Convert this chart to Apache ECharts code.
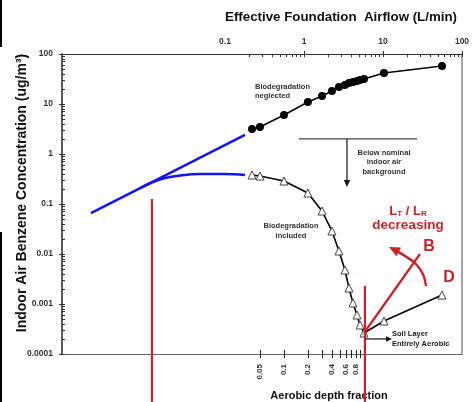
<!DOCTYPE html>
<html>
<head>
<meta charset="utf-8">
<script src="https://cdn.jsdelivr.net/npm/echarts@6/dist/echarts.min.js"></script>
<style>
  html, body { margin: 0; padding: 0; background: #fff; }
  #chart { width: 473px; height: 402px; }
</style>
</head>
<body>
<div id="chart"></div>
<script>
// Effective foundation airflow (L/min) for each model run
const AIRFLOW = [0.22, 0.277, 0.558, 1.12, 1.69, 2.26, 2.77, 3.30, 3.71, 4.17, 4.69, 5.12, 5.75, 10.3, 55.8];
// Indoor air benzene concentration (ug/m3), biodegradation neglected
const CONC_NEGLECTED = [3.16, 3.47, 6.03, 11.0, 14.5, 18.2, 21.9, 24.0, 26.3, 27.5, 28.8, 30.2, 31.6, 41.7, 57.5];
// Indoor air benzene concentration (ug/m3), biodegradation included
const CONC_INCLUDED = [0.380, 0.363, 0.288, 0.166, 0.0724, 0.0288, 0.0115, 0.00479, 0.00209, 0.00105, 0.000603, 0.00038, 0.000263, 0.000457, 0.00151];

// Low-airflow extension (blue): straight trend and the flattening branch
const BLUE_TREND_X = [0.00201, 0.179];
const BLUE_TREND_Y = [0.066, 2.40];
const BLUE_BEND_X = [0.0084, 0.0119, 0.0174, 0.0269, 0.0483, 0.1, 0.179];
const BLUE_BEND_Y = [0.207, 0.269, 0.331, 0.372, 0.398, 0.398, 0.380];

// Red markers: two vertical cut-offs and the "B" trend
const RED_CUT_LEFT_X = [0.0119, 0.0119];
const RED_CUT_LEFT_Y = [0.126, 0.0000110];
const RED_CUT_RIGHT_X = [5.9, 5.9];
const RED_CUT_RIGHT_Y = [0.00229, 0.0000110];
const RED_B_X = [5.75, 29.4];
const RED_B_Y = [0.000263, 0.01];

// Axis tick values
const Y_MAJOR = [0.0001, 0.001, 0.01, 0.1, 1, 10, 100];
const TOP_LABELS = [0.1, 1, 10, 100];
const TOP_MAJOR = [1, 10, 100];
const DEPTH_TICKS = [0.05, 0.1, 0.2, 0.3, 0.4, 0.5, 0.6, 0.7, 0.8, 0.9, 1.0];
const DEPTH_LABEL_VALUES = [0.05, 0.1, 0.2, 0.4, 0.6, 0.8, 1.0];
const DEPTH_LABELS = ['0.05', '0.1', '0.2', '0.4', '0.6', '0.8', '1.0'];

// Annotation arrows, given in (airflow, concentration) coordinates
const ARROWS = [
  { pts: [[0.865, 2.0], [26.9, 2.0]], color: '#444', width: 1.2, head: 0 },
  { pts: [[3.50, 2.0], [3.50, 0.219]], color: '#111', width: 1.2, head: 7 },
  { pts: [[5.92, 0.0002], [13.0, 0.0002]], color: '#111', width: 1.2, head: 6 },
  { pts: [[35.0, 0.00229], [32.0, 0.00398], [25.4, 0.0066], [19.0, 0.00912], [15.0, 0.01148], [11.9, 0.0138]], color: '#d21f26', width: 2.4, head: 11 }
];

function minorTicks(majors) {
  const out = [];
  majors.forEach(m => { for (let k = 1; k <= 9; k++) out.push(m * k); });
  return out;
}
function fmtPow(v) {
  const e = Math.round(Math.log10(v));
  return e >= 0 ? String(Math.round(Math.pow(10, e))) : Math.pow(10, e).toFixed(-e);
}
function fmtDepth(v) {
  let best = 0;
  DEPTH_LABEL_VALUES.forEach((d, i) => {
    if (Math.abs(Math.log(d / v)) < Math.abs(Math.log(DEPTH_LABEL_VALUES[best] / v))) best = i;
  });
  return DEPTH_LABELS[best];
}
const zip = (xs, ys) => xs.map((x, i) => [x, ys[i]]);

const FONT = 'Liberation Sans, Arial, Helvetica, sans-serif';
const RED = '#d21f26';
const BLUE = '#1414ee';
const labelStyle = { fontFamily: FONT, fontSize: 8.5, fontWeight: 'bold', color: '#333' };

const Y_TICKS = minorTicks([0.0001, 0.001, 0.01, 0.1, 1, 10]).concat([100]);
const TOP_TICKS = minorTicks([0.1, 1, 10]).filter(v => v > 0.15).concat([100]);

const X_MIN = 8.65e-4, X_MAX = 100;
const D_MIN = 1.679e-4, D_MAX = 16.79;

const chart = echarts.init(document.getElementById('chart'), null, { renderer: 'canvas' });

const option = {
  animation: false,
  backgroundColor: '#fff',
  grid: { left: 62, right: 11, top: 54, bottom: 48, containLabel: false },
  xAxis: [
    { // airflow scale (top) with labels and inner ticks
      type: 'log', position: 'top', min: X_MIN, max: X_MAX,
      axisLine: { lineStyle: { color: '#333', width: 1.2 } },
      axisTick: { show: true, inside: true, length: 3, customValues: TOP_TICKS, lineStyle: { color: '#333' } },
      axisLabel: { show: true, margin: 8, customValues: TOP_LABELS, formatter: fmtPow, ...labelStyle },
      splitLine: { show: false }, minorTick: { show: false }
    },
    { // outer stubs of the major airflow ticks
      type: 'log', position: 'top', min: X_MIN, max: X_MAX,
      axisLine: { show: false },
      axisTick: { show: true, inside: false, length: 3, customValues: TOP_MAJOR, lineStyle: { color: '#333' } },
      axisLabel: { show: false }, splitLine: { show: false }
    },
    { // aerobic depth fraction (bottom)
      type: 'log', position: 'bottom', min: D_MIN, max: D_MAX,
      axisLine: { lineStyle: { color: '#666', width: 1 } },
      axisTick: { show: true, inside: false, length: 4, customValues: DEPTH_TICKS, lineStyle: { color: '#222' } },
      axisLabel: { show: true, rotate: 90, margin: 10, customValues: DEPTH_LABEL_VALUES, formatter: fmtDepth, ...labelStyle, fontSize: 8 },
      splitLine: { show: false }
    },
    {
      type: 'log', position: 'bottom', min: D_MIN, max: D_MAX,
      axisLine: { show: false },
      axisTick: { show: true, inside: true, length: 4, customValues: DEPTH_TICKS, lineStyle: { color: '#222' } },
      axisLabel: { show: false }, splitLine: { show: false }
    }
  ],
  yAxis: [
    {
      type: 'log', position: 'left', min: 0.0001, max: 100,
      axisLine: { lineStyle: { color: '#222', width: 1.5 } },
      axisTick: { show: true, inside: true, length: 3, customValues: Y_TICKS, lineStyle: { color: '#333' } },
      axisLabel: { show: true, margin: 9, customValues: Y_MAJOR, formatter: fmtPow, ...labelStyle },
      splitLine: { show: false }
    },
    {
      type: 'log', position: 'left', min: 0.0001, max: 100,
      axisLine: { show: false },
      axisTick: { show: true, inside: false, length: 3, customValues: Y_MAJOR, lineStyle: { color: '#333' } },
      axisLabel: { show: false }, splitLine: { show: false }
    },
    { // right frame edge
      type: 'log', position: 'right', min: 0.0001, max: 100,
      axisLine: { show: true, lineStyle: { color: '#888', width: 1.5 } },
      axisTick: { show: false }, axisLabel: { show: false }, splitLine: { show: false }
    }
  ],
  series: [
    {
      name: 'trend', type: 'line', xAxisIndex: 0, yAxisIndex: 0,
      data: zip(BLUE_TREND_X, BLUE_TREND_Y), showSymbol: false, symbol: 'none',
      lineStyle: { color: BLUE, width: 2.5 }, z: 3
    },
    {
      name: 'bend', type: 'line', xAxisIndex: 0, yAxisIndex: 0,
      data: zip(BLUE_BEND_X, BLUE_BEND_Y), showSymbol: false, symbol: 'none', smooth: 0.4,
      lineStyle: { color: BLUE, width: 2.5 }, z: 3
    },
    {
      name: 'Biodegradation neglected', type: 'line', xAxisIndex: 0, yAxisIndex: 0,
      data: zip(AIRFLOW, CONC_NEGLECTED), symbol: 'circle', symbolSize: 8,
      itemStyle: { color: '#000' }, lineStyle: { color: '#000', width: 1.6 }, z: 4
    },
    {
      name: 'Biodegradation included', type: 'line', xAxisIndex: 0, yAxisIndex: 0,
      data: zip(AIRFLOW, CONC_INCLUDED), symbol: 'triangle', symbolSize: 8,
      itemStyle: { color: '#fff', borderColor: '#444', borderWidth: 1 },
      lineStyle: { color: '#000', width: 1.6 }, z: 4
    },
    {
      name: 'cut left', type: 'line', xAxisIndex: 0, yAxisIndex: 0, clip: false,
      data: zip(RED_CUT_LEFT_X, RED_CUT_LEFT_Y), symbol: 'none',
      lineStyle: { color: RED, width: 2.2 }, z: 5
    },
    {
      name: 'cut right', type: 'line', xAxisIndex: 0, yAxisIndex: 0, clip: false,
      data: zip(RED_CUT_RIGHT_X, RED_CUT_RIGHT_Y), symbol: 'none',
      lineStyle: { color: RED, width: 2.2 }, z: 5
    },
    {
      name: 'B', type: 'line', xAxisIndex: 0, yAxisIndex: 0,
      data: zip(RED_B_X, RED_B_Y), symbol: 'none',
      lineStyle: { color: RED, width: 2.2 }, z: 5
    },
    {
      name: 'arrows', type: 'custom', xAxisIndex: 0, yAxisIndex: 0, clip: false, z: 6,
      data: ARROWS.map(() => [1, 1]),
      renderItem: function (params, api) {
        const a = ARROWS[params.dataIndex];
        const p = a.pts.map(q => api.coord(q));
        const children = [];
        let linePts = p.slice();
        if (a.head > 0) {
          const tip = p[p.length - 1];
          const prev = p[p.length - 2];
          const dx = tip[0] - prev[0], dy = tip[1] - prev[1];
          const len = Math.sqrt(dx * dx + dy * dy) || 1;
          const ux = dx / len, uy = dy / len;
          const hw = a.head * 0.45;
          const bx = tip[0] - ux * a.head, by = tip[1] - uy * a.head;
          children.push({
            type: 'polygon',
            shape: { points: [tip, [bx - uy * hw, by + ux * hw], [bx + uy * hw, by - ux * hw]] },
            style: { fill: a.color }
          });
          linePts[linePts.length - 1] = [tip[0] - ux * a.head * 0.7, tip[1] - uy * a.head * 0.7];
        }
        children.unshift({
          type: 'polyline',
          shape: { points: linePts, smooth: linePts.length > 2 ? 0.35 : 0 },
          style: { stroke: a.color, lineWidth: a.width, fill: null }
        });
        return { type: 'group', children: children };
      }
    }
  ],
  graphic: [
    { type: 'rect', shape: { x: 0, y: 0, width: 2, height: 47 }, style: { fill: '#000' } },
    { type: 'rect', shape: { x: 0, y: 232, width: 2, height: 170 }, style: { fill: '#000' } },
    { type: 'text', x: 341, y: 17, style: { text: 'Effective Foundation  Airflow (L/min)', font: 'bold 13.3px ' + FONT, fill: '#111', align: 'center', verticalAlign: 'middle' } },
    { type: 'text', x: 22, y: 193, rotation: Math.PI / 2, style: { text: 'Indoor Air Benzene Concentration (ug/m³)', font: 'bold 14px ' + FONT, fill: '#111', align: 'center', verticalAlign: 'middle' } },
    { type: 'text', x: 329, y: 396, style: { text: 'Aerobic depth fraction', font: 'bold 11px ' + FONT, fill: '#111', align: 'center', verticalAlign: 'middle' } },
    { type: 'text', x: 255, y: 91, style: { text: 'Biodegradation\nneglected', font: 'bold 7.5px ' + FONT, lineHeight: 9, fill: '#333', align: 'left', verticalAlign: 'middle' } },
    { type: 'text', x: 291, y: 231, style: { text: 'Biodegradation\nincluded', font: 'bold 7.5px ' + FONT, lineHeight: 10, fill: '#333', align: 'center', verticalAlign: 'middle' } },
    { type: 'text', x: 384, y: 162, style: { text: 'Below nominal\nindoor air\nbackground', font: 'bold 7.5px ' + FONT, lineHeight: 9.5, fill: '#333', align: 'center', verticalAlign: 'middle' } },
    { type: 'text', x: 392, y: 339, style: { text: 'Soil Layer\nEntirely Aerobic', font: 'bold 7.5px ' + FONT, lineHeight: 9.5, fill: '#222', align: 'left', verticalAlign: 'middle' } },
    { type: 'text', x: 408, y: 211, style: {
        text: '{a|L}{s|T}{a| / L}{s|R}', align: 'center', verticalAlign: 'middle',
        rich: {
          a: { fontFamily: FONT, fontSize: 13, fontWeight: 'bold', fill: RED, color: RED },
          s: { fontFamily: FONT, fontSize: 8, fontWeight: 'bold', fill: RED, color: RED, padding: [6, 0, 0, 0] }
        } } },
    { type: 'text', x: 408, y: 225, style: { text: 'decreasing', font: 'bold 13.5px ' + FONT, fill: RED, align: 'center', verticalAlign: 'middle' } },
    { type: 'text', x: 429, y: 247, style: { text: 'B', font: 'bold 16px ' + FONT, fill: RED, align: 'center', verticalAlign: 'middle' } },
    { type: 'text', x: 449, y: 278, style: { text: 'D', font: 'bold 16px ' + FONT, fill: RED, align: 'center', verticalAlign: 'middle' } }
  ]
};

chart.setOption(option);
</script>
</body>
</html>
